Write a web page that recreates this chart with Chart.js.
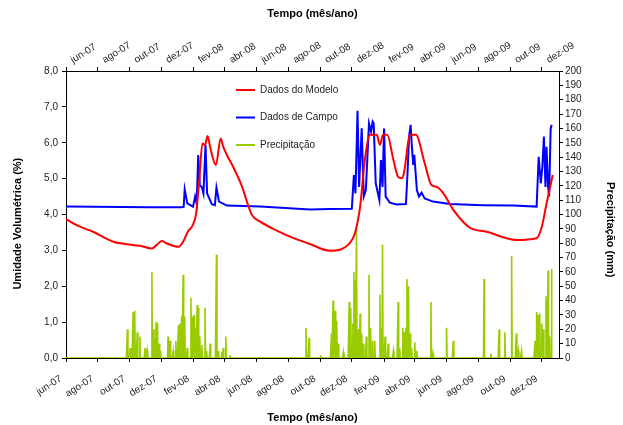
<!DOCTYPE html>
<html>
<head>
<meta charset="utf-8">
<script src="https://cdn.jsdelivr.net/npm/chart.js@4.4.1/dist/chart.umd.min.js"></script>
<style>
  body { margin: 0; background: #fff; }
  #caixa { width: 623px; height: 425px; }
</style>
</head>
<body>
<div id="caixa"><canvas id="grafico" width="623" height="425"></canvas></div>
<script>
// dias contados a partir de 01/06/2007
const rotulosMeses = ['jun-07', 'ago-07', 'out-07', 'dez-07', 'fev-08', 'abr-08', 'jun-08', 'ago-08',
  'out-08', 'dez-08', 'fev-09', 'abr-09', 'jun-09', 'ago-09', 'out-09', 'dez-09'];

// Dados do Modelo - umidade volumetrica (%)
const modeloDias = [0, 27, 52, 91, 117, 142, 165, 174, 184, 193, 216, 225, 234, 243, 250, 256, 262, 267, 272, 277,
  288, 297, 302, 309, 321, 337, 357, 373, 405, 437, 465, 507, 545, 555, 565, 574, 584, 597, 603, 609,
  617, 629, 638, 645, 649, 661, 672, 689, 702, 712, 725, 744, 776, 808, 865, 904, 914, 923, 935];
const modeloUmidade = [3.87, 3.66, 3.52, 3.24, 3.17, 3.13, 3.05, 3.15, 3.26, 3.20, 3.10, 3.24, 3.52, 3.69, 4.03, 4.96, 5.98, 5.94, 6.19, 5.87,
  5.38, 6.12, 5.89, 5.66, 5.33, 4.82, 3.99, 3.80, 3.55, 3.34, 3.20, 2.99, 3.20, 3.48, 4.22, 5.52, 6.22, 6.22, 5.94, 6.22,
  6.22, 5.52, 5.05, 5.01, 5.15, 6.22, 6.22, 5.43, 4.82, 4.77, 4.59, 4.13, 3.63, 3.52, 3.29, 3.34, 3.66, 4.30, 5.10];

// Dados de Campo - umidade volumetrica (%)
const campoDias = [0, 161, 222, 226, 228, 233, 244, 248, 251, 254, 257, 261, 264, 268, 271, 280, 286, 289, 294, 309,
  373, 469, 507, 549, 553, 556, 560, 563, 568, 572, 576, 582, 586, 589, 591, 595, 602, 605, 608, 611,
  614, 622, 635, 653, 656, 659, 662, 664, 667, 669, 674, 678, 683, 689, 705, 737, 801, 859, 904, 908,
  912, 915, 918, 921, 923, 926, 928, 931, 933];
const campoUmidade = [4.22, 4.20, 4.20, 4.21, 4.70, 4.31, 4.22, 4.50, 4.30, 5.66, 4.82, 4.76, 4.59, 5.94, 4.59, 4.29, 4.26, 4.75, 4.36, 4.25,
  4.22, 4.14, 4.15, 4.16, 5.10, 4.59, 6.89, 4.77, 6.40, 4.50, 4.68, 6.54, 6.31, 6.59, 6.54, 4.87, 4.40, 5.52, 4.77, 6.40,
  4.50, 4.33, 4.28, 4.29, 5.15, 6.17, 6.50, 5.98, 5.38, 5.66, 4.68, 4.50, 4.61, 4.45, 4.36, 4.29, 4.26, 4.25, 4.22, 5.61,
  4.87, 5.33, 6.17, 4.77, 5.89, 4.77, 4.50, 6.40, 6.50];

// Precipitacao (mm) nos dias com chuva; demais dias = 0
const chuvaDias = [118, 123, 126, 129, 132, 137, 142, 152, 156, 165, 168, 171, 173, 175, 179, 181, 196, 200, 206, 211,
  216, 219, 222, 225, 228, 233, 240, 243, 246, 249, 252, 254, 257, 261, 267, 270, 277, 289, 293, 299,
  302, 307, 315, 461, 467, 489, 510, 513, 517, 520, 523, 533, 544, 547, 551, 553, 555, 558, 561, 565,
  568, 571, 577, 582, 585, 589, 593, 603, 606, 608, 613, 619, 629, 638, 641, 647, 650, 653, 655, 658,
  661, 664, 670, 674, 701, 705, 731, 744, 803, 816, 832, 843, 856, 865, 869, 875, 901, 904, 907, 910,
  914, 917, 922, 926, 929, 933];
const chuvaMm = [20, 7, 7, 32, 33, 18, 15, 7, 5, 60, 20, 14, 25, 24, 10, 5, 15, 12, 5, 12,
  23, 24, 29, 58, 29, 7, 42, 29, 30, 21, 37, 35, 15, 9, 35, 5, 10, 72, 5, 4,
  7, 15, 2, 21, 14, 2, 17, 40, 33, 26, 10, 4, 39, 35, 24, 60, 54, 90, 20, 31,
  17, 10, 15, 58, 21, 12, 12, 44, 21, 79, 15, 10, 5, 39, 7, 21, 18, 21, 55, 50,
  17, 7, 11, 5, 39, 3, 21, 12, 55, 3, 20, 18, 71, 17, 5, 5, 12, 32, 30, 31,
  24, 20, 43, 61, 15, 62];

const ultimoDia = 933;
const fimEixo = 947;

const meses = {jan: 0, fev: 1, mar: 2, abr: 3, mai: 4, jun: 5, jul: 6, ago: 7, set: 8, out: 9, nov: 10, dez: 11};
const inicio = Date.UTC(2007, 5, 1);
const diasTicks = rotulosMeses.map(function (r) {
  const p = r.split('-');
  return Math.round((Date.UTC(2000 + parseInt(p[1]), meses[p[0]], 1) - inicio) / 86400000);
});

const pontosModelo = modeloDias.map((d, i) => ({x: d, y: modeloUmidade[i]}));
const pontosCampo = campoDias.map((d, i) => ({x: d, y: campoUmidade[i]}));
const pontosChuva = [];
for (let d = 0; d <= ultimoDia; d++) {
  const k = chuvaDias.indexOf(d);
  pontosChuva.push({x: d, y: k >= 0 ? chuvaMm[k] : 0});
}

const fonte = '"Liberation Sans", Arial, sans-serif';
Chart.defaults.font.family = fonte;
Chart.defaults.color = '#222';

const grade = {drawOnChartArea: false, drawTicks: true, tickLength: 4, color: '#000'};
const borda = {display: true, color: '#000', width: 1};
const tituloFonte = {family: fonte, size: 11, weight: 'bold'};

function eixoTempo(posicao, alto, padTitulo, padRotulo, desloc) {
  return {
    type: 'linear',
    position: posicao,
    min: 0,
    max: fimEixo,
    grid: grade,
    border: borda,
    afterBuildTicks: function (axis) {
      axis.ticks = diasTicks.map(v => ({value: v}));
    },
    afterFit: function (axis) { axis.height = alto; },
    ticks: {
      autoSkip: false,
      minRotation: 32,
      maxRotation: 32,
      padding: padRotulo,
      labelOffset: desloc,
      font: {size: 10},
      color: '#222',
      callback: function (v, i) { return rotulosMeses[i]; }
    },
    title: {display: true, text: 'Tempo (mês/ano)', font: tituloFonte, color: '#000', padding: padTitulo}
  };
}

// legenda desenhada dentro da area do grafico
const legendaInterna = {
  id: 'legendaInterna',
  afterDraw(chart) {
    const ctx = chart.ctx;
    ctx.save();
    ctx.font = '10px ' + fonte;
    ctx.textBaseline = 'middle';
    chart.data.datasets.forEach(function (ds, i) {
      const y = 90 + i * 27.5;
      ctx.strokeStyle = ds.borderColor;
      ctx.lineWidth = 2;
      ctx.beginPath();
      ctx.moveTo(236, y);
      ctx.lineTo(255, y);
      ctx.stroke();
      ctx.fillStyle = '#222';
      ctx.fillText(ds.label, 260, y);
    });
    ctx.restore();
  }
};

new Chart(document.getElementById('grafico'), {
  type: 'line',
  data: {
    datasets: [{
      label: 'Dados do Modelo',
      data: pontosModelo,
      borderColor: '#FF0000',
      borderWidth: 2,
      pointRadius: 0,
      cubicInterpolationMode: 'monotone',
      xAxisID: 'x',
      yAxisID: 'y'
    }, {
      label: 'Dados de Campo',
      data: pontosCampo,
      borderColor: '#0000FF',
      borderWidth: 2,
      pointRadius: 0,
      tension: 0,
      xAxisID: 'x',
      yAxisID: 'y'
    }, {
      label: 'Precipitação',
      data: pontosChuva,
      borderColor: '#99CC00',
      borderWidth: 1.6,
      pointRadius: 0,
      tension: 0,
      xAxisID: 'x',
      yAxisID: 'y2'
    }]
  },
  options: {
    responsive: false,
    animation: false,
    layout: {padding: 0},
    plugins: {legend: {display: false}, tooltip: {enabled: false}},
    scales: {
      x: eixoTempo('bottom', 67, {top: 0, bottom: 0}, 11, -5),
      x2: eixoTempo('top', 71, {top: 7, bottom: 0}, 1, 12),
      y: {
        position: 'left',
        min: 0,
        max: 8,
        grid: grade,
        border: borda,
        afterFit: function (axis) { axis.width = 66; },
        ticks: {
          stepSize: 1,
          padding: 4,
          font: {size: 10},
          color: '#222',
          callback: v => v.toFixed(1).replace('.', ',')
        },
        // espacos no fim deslocam o titulo para baixo, como no original
        title: {display: true, text: 'Umidade Volumétrica (%)      ', font: tituloFonte, color: '#000', padding: {top: 11, bottom: 0}}
      },
      y2: {
        position: 'right',
        min: 0,
        max: 200,
        grid: grade,
        border: borda,
        afterFit: function (axis) { axis.width = 64; },
        ticks: {
          stepSize: 10,
          autoSkip: false,
          padding: 2,
          font: {size: 10},
          color: '#222'
        },
        title: {display: true, text: '          Precipitação (mm)', font: tituloFonte, color: '#000', padding: {top: 6, bottom: 0}}
      }
    }
  },
  plugins: [legendaInterna]
});
</script>
</body>
</html>
